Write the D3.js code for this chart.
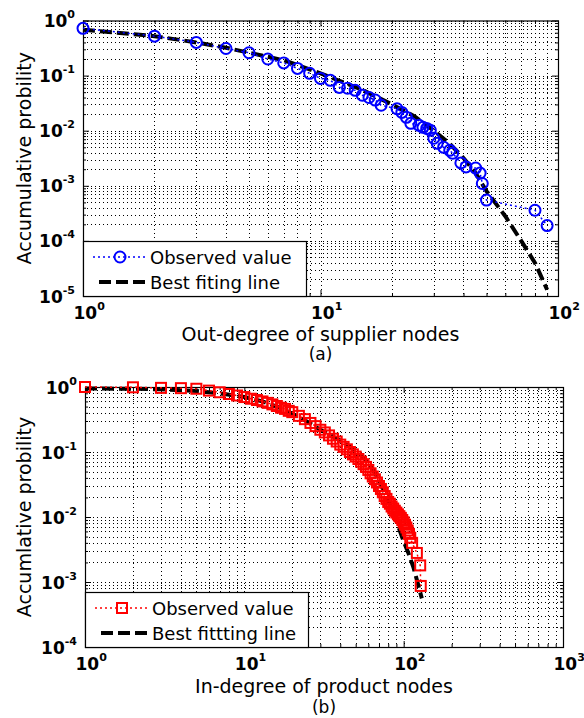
<!DOCTYPE html>
<html>
<head>
<meta charset="utf-8">
<script src="https://d3js.org/d3.v7.min.js"></script>
<style>
body { margin: 0; background: #fff; }
svg { display: block; }
</style>
</head>
<body>
<script>
// (a) out-degree of supplier nodes
var aObsX = [1, 2, 3, 4, 5, 6, 7, 8, 9, 10, 11, 12, 13, 14, 15, 16, 17, 18, 21, 22, 23, 24, 26, 27, 28, 29, 30, 31, 33, 35, 36, 39, 41, 45, 47, 48, 50, 80, 90];
var aObsY = [0.72, 0.52, 0.40, 0.31, 0.26, 0.20, 0.17, 0.135, 0.11, 0.089, 0.082, 0.061, 0.059, 0.054, 0.044, 0.040, 0.036, 0.029,
             0.025, 0.0215, 0.0175, 0.0136, 0.0125, 0.0115, 0.011, 0.0102, 0.0073, 0.0059, 0.005, 0.0044, 0.0039, 0.0026,
             0.0022, 0.0021, 0.0017, 0.0011, 0.00055, 0.00036, 0.00019];
var aFitX = [1, 2, 3, 4, 5, 7, 10, 15, 20, 25, 30, 35, 40, 45, 50, 60, 70, 80, 90];
var aFitY = [0.68, 0.52, 0.40, 0.32, 0.26, 0.19, 0.11, 0.055, 0.030, 0.018, 0.010, 0.0058, 0.0032, 0.0017, 0.0008,
             0.00028, 0.0001, 0.00004, 0.000013];

// (b) in-degree of product nodes
var bObsX = [1, 2, 3, 4, 5, 6, 7, 8, 9, 10, 11, 12, 13, 14, 15, 16, 17, 18, 19, 20, 22, 24, 26, 28, 30, 32, 34, 36, 38, 40,
             42, 44, 46, 48, 50, 52, 54, 56, 58, 60, 62, 64, 66, 68, 70, 72, 74, 76, 78, 80, 82, 84, 86, 88, 90, 92, 94, 96,
             98, 100, 102, 104, 106, 108, 110, 113, 121, 127, 128];
var bObsY = [1.0, 0.99, 0.97, 0.96, 0.94, 0.88, 0.83, 0.78, 0.74, 0.70, 0.66, 0.63, 0.60, 0.57, 0.54, 0.51, 0.48, 0.46, 0.43,
             0.41, 0.36, 0.32, 0.28, 0.25, 0.22, 0.20, 0.18, 0.16, 0.145, 0.13, 0.12, 0.11, 0.10, 0.092, 0.085, 0.078, 0.071,
             0.065, 0.059, 0.053, 0.047, 0.042, 0.038, 0.034, 0.030, 0.027, 0.024, 0.021, 0.019, 0.017, 0.016, 0.0145, 0.0135,
             0.0125, 0.0117, 0.011, 0.0103, 0.0097, 0.009, 0.0083, 0.0076, 0.0069, 0.0062, 0.0055, 0.0048, 0.0040, 0.0028,
             0.0018, 0.00087];
var bFitX = [1, 2, 3, 5, 7, 10, 13, 16, 20, 25, 30, 35, 40, 46, 53, 60, 67, 74, 80, 86, 92, 99, 107, 115, 122, 130];
var bFitY = [0.95, 0.94, 0.92, 0.87, 0.80, 0.70, 0.60, 0.50, 0.39, 0.29, 0.22, 0.18, 0.15, 0.12, 0.095, 0.068, 0.045, 0.027,
             0.018, 0.0118, 0.0075, 0.0045, 0.0028, 0.0017, 0.0010, 0.00056];

// decade exponents used for tick labels
var aXExp = [0, 1, 2];
var aYExp = [0, -1, -2, -3, -4, -5];
var bXExp = [0, 1, 2, 3];
var bYExp = [0, -1, -2, -3, -4];

var svg = d3.select("body").append("svg")
    .attr("width", 584)
    .attr("height", 718);

function minors(lo, hi) {
    var out = [];
    for (var e = lo; e < hi; e++)
        for (var k = 2; k < 10; k++) out.push(k * Math.pow(10, e));
    return out;
}

function expLabel(sel, anchor, dx, dy) {
    sel.append("text")
        .attr("x", dx)
        .attr("y", dy)
        .attr("text-anchor", anchor)
        .attr("fill", "#000")
        .style("font-family", "DejaVu Sans")
        .style("font-weight", "bold")
        .style("font-size", "17px")
        .each(function(d) {
            var t = d3.select(this);
            t.append("tspan").text("10");
            t.append("tspan").attr("dy", -9).style("font-size", "11px")
                .text(Math.round(Math.log10(d)));
        });
}

function drawPanel(p) {
    var xlo = d3.min(p.xExp), xhi = d3.max(p.xExp),
        ylo = d3.min(p.yExp), yhi = d3.max(p.yExp);
    var x = d3.scaleLog().domain([Math.pow(10, xlo), Math.pow(10, xhi)]).range([p.left, p.right]);
    var y = d3.scaleLog().domain([Math.pow(10, ylo), Math.pow(10, yhi)]).range([p.bottom, p.top]);
    var xMaj = p.xExp.map(function(e) { return Math.pow(10, e); }),
        yMaj = p.yExp.map(function(e) { return Math.pow(10, e); }),
        xMin = minors(xlo, xhi),
        yMin = minors(ylo, yhi);

    var g = svg.append("g");

    // dotted grid, major and minor
    var grid = g.append("g").attr("stroke", "#000").attr("stroke-width", 1)
        .attr("stroke-dasharray", "1,3").attr("shape-rendering", "crispEdges");
    grid.selectAll(".gx").data(xMaj.concat(xMin)).enter().append("line")
        .attr("x1", function(d) { return Math.round(x(d)) + 0.5; })
        .attr("x2", function(d) { return Math.round(x(d)) + 0.5; })
        .attr("y1", p.top).attr("y2", p.bottom);
    grid.selectAll(".gy").data(yMaj.concat(yMin)).enter().append("line")
        .attr("y1", function(d) { return Math.round(y(d)) + 0.5; })
        .attr("y2", function(d) { return Math.round(y(d)) + 0.5; })
        .attr("x1", p.left).attr("x2", p.right);

    // inward ticks on all four sides
    var axes = [
        [d3.axisBottom(x), "translate(0," + p.bottom + ")", xMaj, xMin],
        [d3.axisTop(x), "translate(0," + p.top + ")", xMaj, xMin],
        [d3.axisLeft(y), "translate(" + p.left + ",0)", yMaj, yMin],
        [d3.axisRight(y), "translate(" + p.right + ",0)", yMaj, yMin]
    ];
    var axG = [];
    axes.forEach(function(a) {
        var ag = g.append("g").attr("transform", a[1]);
        ag.append("g").call(a[0].tickValues(a[2]).tickSize(-6).tickSizeOuter(0).tickFormat(""));
        ag.append("g").call(a[0].tickValues(a[3]).tickSize(-3).tickSizeOuter(0).tickFormat(""));
        ag.selectAll(".domain").remove();
        ag.selectAll("line").attr("stroke", "#000");
        axG.push(ag);
    });

    // tick labels 10^n
    axG[0].select("g").selectAll(".tick").call(expLabel, "start", -10, p.xTickY);
    axG[2].select("g").selectAll(".tick").call(expLabel, "end", -8, 6);

    g.append("rect")
        .attr("x", p.left + 0.5).attr("y", p.top + 0.5)
        .attr("width", p.right - p.left).attr("height", p.bottom - p.top)
        .attr("fill", "none").attr("stroke", "#000").attr("stroke-width", 1.2);

    // fitted line
    var fit = p.fitX.map(function(v, i) { return [x(v), y(p.fitY[i])]; });
    g.append("path")
        .attr("d", d3.line()(fit))
        .attr("fill", "none").attr("stroke", "#000")
        .attr("stroke-width", 4).attr("stroke-dasharray", "12,5");

    // observed values
    var obs = p.obsX.map(function(v, i) { return [x(v), y(p.obsY[i])]; });
    g.append("path")
        .attr("d", d3.line()(obs))
        .attr("fill", "none").attr("stroke", p.color)
        .attr("stroke-width", 1.5).attr("stroke-dasharray", "2,3");
    drawMarkers(g, obs, p);

    // legend
    var lg = g.append("g");
    lg.append("rect")
        .attr("x", p.left + 0.5).attr("y", p.legendTop + 0.5)
        .attr("width", p.legendRight - p.left).attr("height", p.bottom - p.legendTop)
        .attr("fill", "#fff").attr("stroke", "#000").attr("stroke-width", 1.2);
    var r1 = p.legendTop + 16, r2 = p.legendTop + 41;
    lg.append("line")
        .attr("x1", p.left + 10).attr("x2", p.left + 63).attr("y1", r1).attr("y2", r1)
        .attr("stroke", p.color).attr("stroke-width", 1.5).attr("stroke-dasharray", "2,3");
    drawMarkers(lg, [[p.left + 37, r1]], p);
    lg.append("line")
        .attr("x1", p.left + 16).attr("x2", p.left + 62).attr("y1", r2).attr("y2", r2)
        .attr("stroke", "#000").attr("stroke-width", 4).attr("stroke-dasharray", "12,5");
    lg.selectAll("text").data(p.legend).enter().append("text")
        .attr("x", p.left + 67)
        .attr("y", function(d, i) { return (i ? r2 : r1) + 6.5; })
        .style("font-family", "DejaVu Sans").style("font-size", "18px")
        .text(function(d) { return d; });

    // axis titles
    svg.append("text")
        .attr("transform", "translate(" + 31 + "," + (p.top + p.bottom) / 2 + ") rotate(-90)")
        .attr("text-anchor", "middle")
        .style("font-family", "DejaVu Sans").style("font-size", "19px")
        .text(p.ylabel);
    svg.append("text")
        .attr("x", (p.left + p.right) / 2).attr("y", p.xlabelY)
        .attr("text-anchor", "middle")
        .style("font-family", "DejaVu Sans").style("font-size", "19px")
        .text(p.xlabel);
    svg.append("text")
        .attr("x", (p.left + p.right) / 2).attr("y", p.tagY)
        .attr("text-anchor", "middle")
        .style("font-family", "DejaVu Sans").style("font-size", "17px")
        .text(p.tag);
}

function drawMarkers(g, pts, p) {
    if (p.marker == "circle") {
        g.selectAll(null).data(pts).enter().append("circle")
            .attr("cx", function(d) { return d[0]; })
            .attr("cy", function(d) { return d[1]; })
            .attr("r", 5.5)
            .attr("fill", "none").attr("stroke", p.color).attr("stroke-width", 2);
    } else {
        g.selectAll(null).data(pts).enter().append("rect")
            .attr("x", function(d) { return d[0] - 5; })
            .attr("y", function(d) { return d[1] - 5; })
            .attr("width", 10).attr("height", 10)
            .attr("fill", "none").attr("stroke", p.color).attr("stroke-width", 2);
    }
}

drawPanel({
    left: 83, right: 558, top: 20.5, bottom: 296,
    xExp: aXExp, yExp: aYExp,
    obsX: aObsX, obsY: aObsY, fitX: aFitX, fitY: aFitY,
    color: "#0000ff", marker: "circle",
    legendTop: 241, legendRight: 306,
    legend: ["Observed value", "Best fiting line"],
    xlabel: "Out-degree of supplier nodes",
    ylabel: "Accumulative probility",
    tag: "(a)",
    xTickY: 23, xlabelY: 341, tagY: 360
});

drawPanel({
    left: 85, right: 563, top: 387, bottom: 647,
    xExp: bXExp, yExp: bYExp,
    obsX: bObsX, obsY: bObsY, fitX: bFitX, fitY: bFitY,
    color: "#ff0000", marker: "square",
    legendTop: 592, legendRight: 308,
    legend: ["Observed value", "Best fittting line"],
    xlabel: "In-degree of product nodes",
    ylabel: "Accumlative probility",
    tag: "(b)",
    xTickY: 23, xlabelY: 693, tagY: 713
});
</script>
</body>
</html>
